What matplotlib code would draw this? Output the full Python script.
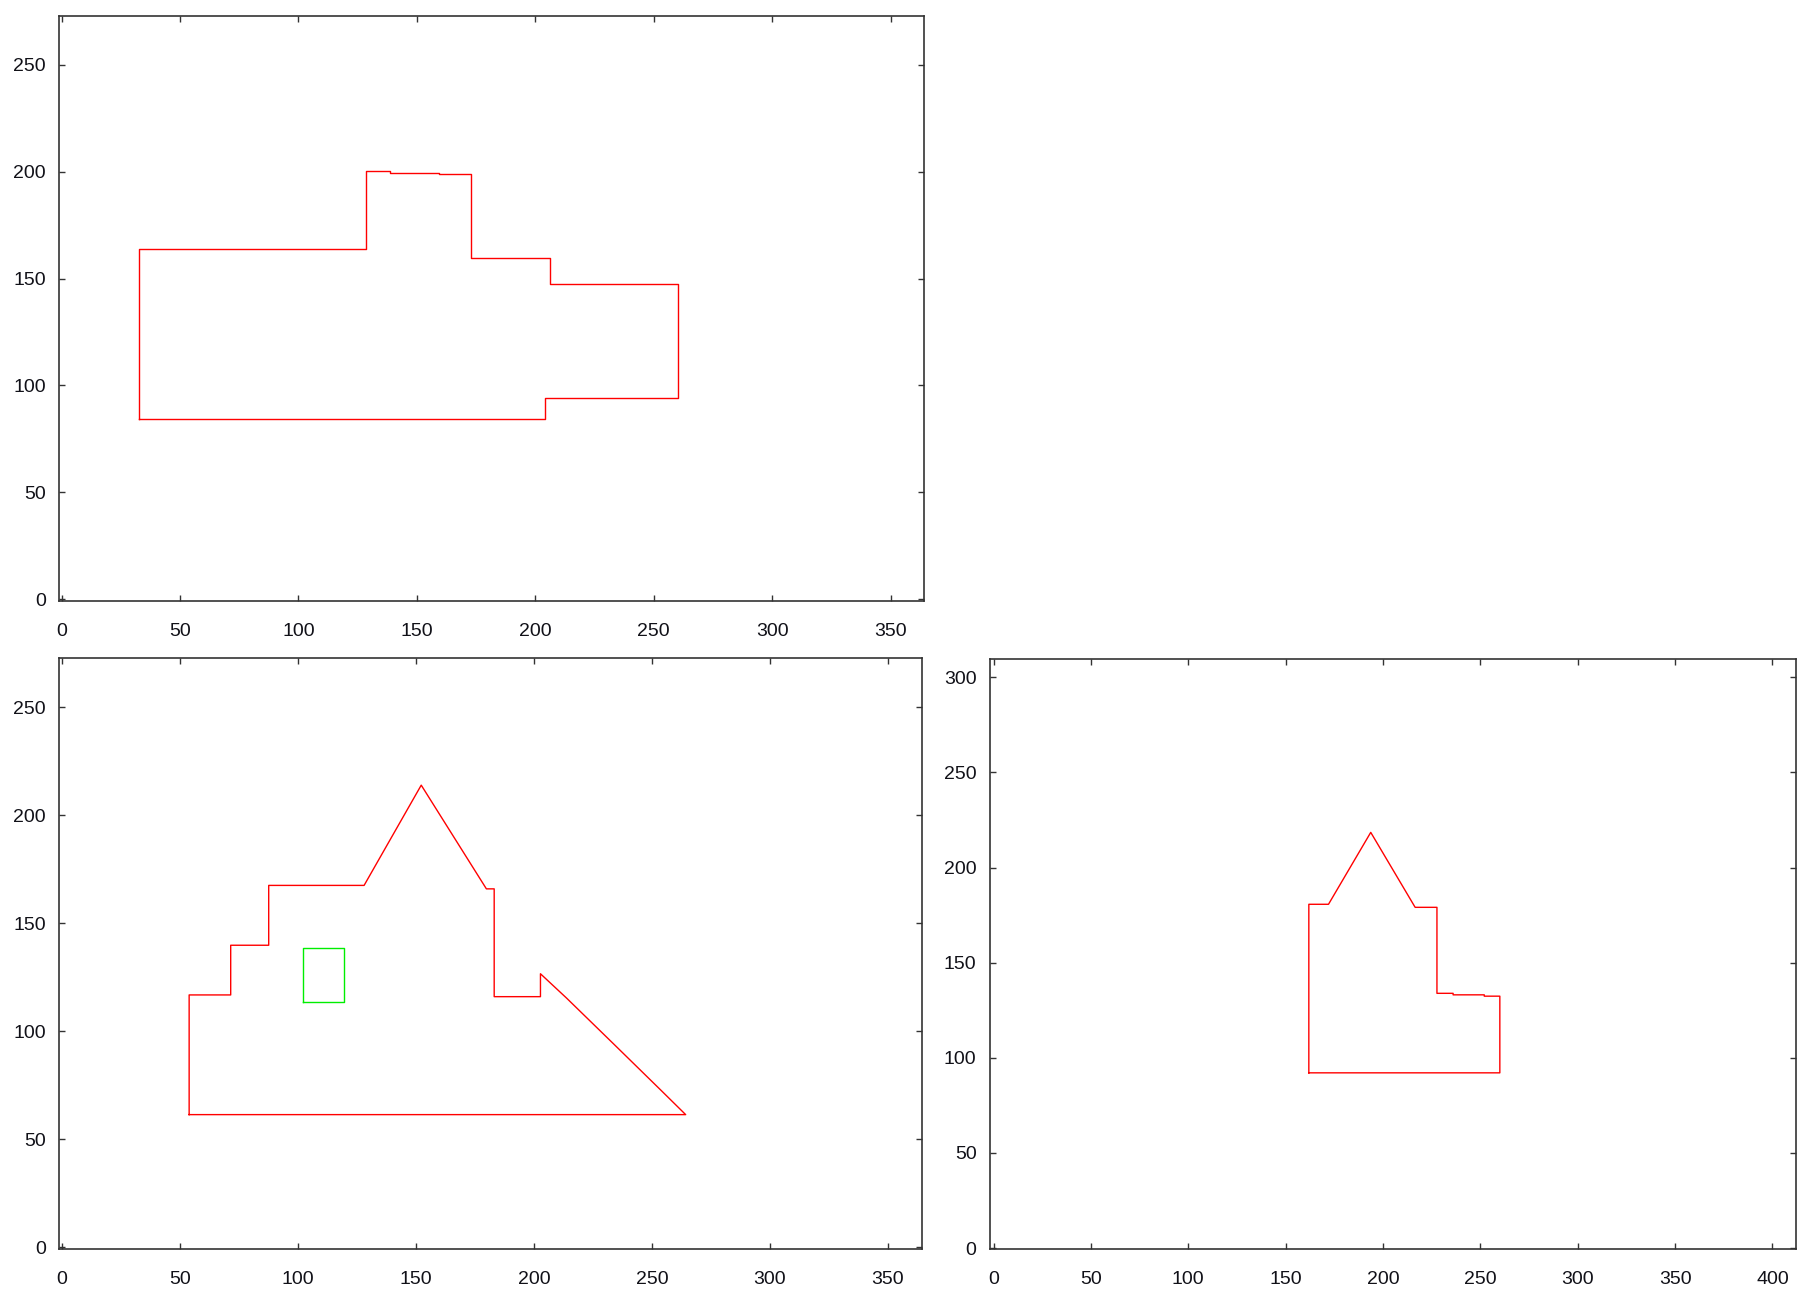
import matplotlib
matplotlib.use("Agg")
import matplotlib.pyplot as plt
from matplotlib import font_manager

# ---------------- data ----------------
# Panel A (top-left) outline
a_x = [32.8, 32.8, 128.4, 128.4, 138.5, 138.5, 159.2, 159.2, 173.0, 173.0, 206.0, 206.0, 260.1, 260.1, 204.0, 204.0, 32.8]
a_y = [84.4, 163.7, 163.7, 200.2, 200.2, 199.5, 199.5, 198.9, 198.9, 159.5, 159.5, 147.6, 147.6, 94.2, 94.2, 84.4, 84.4]

# Panel B (bottom-left) outline
b_x = [54.0, 54.0, 71.6, 71.6, 87.7, 87.7, 128.1, 152.3, 179.9, 183.2, 183.2, 202.8, 202.8, 213.8, 233.9, 254.0, 264.3, 54.0]
b_y = [61.4, 116.8, 116.8, 139.8, 139.8, 167.5, 167.5, 213.9, 165.9, 165.9, 116.0, 116.0, 126.6, 115.4, 94.0, 72.5, 61.4, 61.4]

# Panel B inner green box
g_x = [102.3, 119.8, 119.8, 102.3, 102.3]
g_y = [113.5, 113.5, 138.3, 138.3, 113.5]

# Panel C (bottom-right) outline
c_x = [161.9, 161.9, 172.0, 193.7, 216.5, 227.7, 227.7, 236.0, 236.0, 252.0, 252.0, 260.0, 260.0, 161.9]
c_y = [92.1, 180.7, 180.7, 218.5, 179.1, 179.1, 133.9, 133.9, 133.1, 133.1, 132.4, 132.4, 92.1, 92.1]

left_xticks = [0, 50, 100, 150, 200, 250, 300, 350]
left_yticks = [0, 50, 100, 150, 200, 250]
right_xticks = [0, 50, 100, 150, 200, 250, 300, 350, 400]
right_yticks = [0, 50, 100, 150, 200, 250, 300]

# ---------------- style ----------------
names = {f.name for f in font_manager.fontManager.ttflist}
fam = ["Liberation Sans Narrow", "Liberation Sans"] if "Liberation Sans Narrow" in names else ["Liberation Sans"]
plt.rcParams["font.family"] = fam

LABEL_COLOR = "#111118"
SPINE_COLOR = "#333333"

fig = plt.figure(figsize=(18.11, 13.01), dpi=100)
fig.patch.set_facecolor("white")


def style(ax, xt, yt, xlim, ylim):
    ax.set_xlim(*xlim)
    ax.set_ylim(*ylim)
    ax.set_xticks(xt)
    ax.set_yticks(yt)
    ax.set_xticklabels([str(v) for v in xt])
    ax.set_yticklabels([str(v) for v in yt])
    ax.tick_params(axis="both", direction="in", top=True, right=True,
                   length=4, width=1.0, color=SPINE_COLOR,
                   labelsize=14, labelcolor=LABEL_COLOR)
    ax.tick_params(axis="x", pad=15.5)
    ax.tick_params(axis="y", pad=9.5)
    for s in ax.spines.values():
        s.set_linewidth(1.2)
        s.set_color(SPINE_COLOR)


ax1 = fig.add_axes([0.03274, 0.5378, 0.4773, 0.4501])
ax1.plot(a_x, a_y, color="#ff0000", lw=1.0)
style(ax1, left_xticks, left_yticks, (-1, 364), (-1, 273))

ax2 = fig.add_axes([0.03274, 0.03997, 0.4765, 0.4540])
ax2.plot(b_x, b_y, color="#ff0000", lw=1.0)
ax2.plot(g_x, g_y, color="#00ee00", lw=1.0)
style(ax2, left_xticks, left_yticks, (-1, 364.5), (-0.8, 272.6))

ax3 = fig.add_axes([0.5465, 0.03997, 0.4451, 0.4533])
ax3.plot(c_x, c_y, color="#ff0000", lw=1.0)
style(ax3, right_xticks, right_yticks, (-2, 412), (-0.5, 309.5))

fig.savefig("out.png", dpi=100, facecolor="white")
